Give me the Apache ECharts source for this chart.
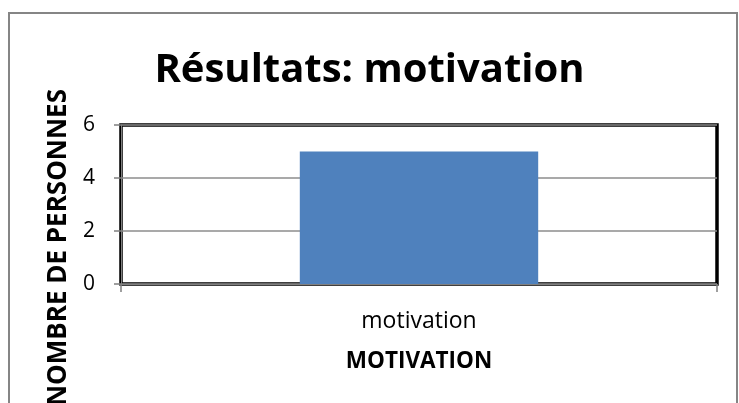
<!DOCTYPE html>
<html>
<head>
<meta charset="utf-8">
<script src="https://cdn.jsdelivr.net/npm/echarts@6/dist/echarts.min.js"></script>
<style>
  html, body { margin: 0; padding: 0; background: #fff; }
  #chart { width: 739px; height: 403px; }
</style>
</head>
<body>
<div id="chart"></div>
<script>
// Survey results: number of people citing motivation
const categories = ['motivation'];
const personCounts = [5];
const yTicks = [0, 2, 4, 6];

const chart = echarts.init(document.getElementById('chart'), null, { renderer: 'canvas' });
const FONT = '"Open Sans", "Noto Sans", sans-serif';

chart.setOption({
  backgroundColor: '#fff',
  animation: false,
  title: {
    text: 'Résultats: motivation',
    left: 'center',
    top: 46,
    textStyle: { fontFamily: FONT, fontWeight: 'bold', fontSize: 40, color: '#000' }
  },
  graphic: [
    {
      type: 'rect',
      shape: { x: 9, y: 13, width: 728, height: 420 },
      style: { fill: 'none', stroke: '#858585', lineWidth: 2 },
      silent: true
    },
    {
      type: 'text',
      x: 59,
      y: 89,
      rotation: Math.PI / 2,
      style: {
        text: 'NOMBRE DE PERSONNES',
        fontFamily: FONT,
        fontWeight: 'bold',
        fontSize: 26,
        fill: '#000',
        align: 'right',
        verticalAlign: 'middle'
      },
      silent: true
    }
  ],
  grid: {
    left: 121, right: 22, top: 125, bottom: 119,
    show: true, borderColor: '#000', borderWidth: 3.5, backgroundColor: 'transparent'
  },
  xAxis: {
    type: 'category',
    data: categories,
    name: 'MOTIVATION',
    nameLocation: 'middle',
    nameGap: 66,
    nameTextStyle: { fontFamily: FONT, fontWeight: 'bold', fontSize: 22.5, color: '#000' },
    axisLine: { show: true, lineStyle: { color: '#808080', width: 1 } },
    axisTick: { show: true, length: 8, lineStyle: { color: '#808080', width: 1.5 } },
    axisLabel: { margin: 26, fontFamily: FONT, fontSize: 23, color: '#000' }
  },
  yAxis: {
    type: 'value',
    min: yTicks[0],
    max: yTicks[yTicks.length - 1],
    interval: yTicks[1] - yTicks[0],
    axisLine: { show: true, lineStyle: { color: '#808080', width: 1 } },
    axisTick: { show: true, length: 7, lineStyle: { color: '#808080', width: 1.5 } },
    axisLabel: { margin: 26, fontFamily: FONT, fontSize: 21, color: '#000' },
    splitLine: { show: true, lineStyle: { color: '#8c8c8c', width: 1.5 } }
  },
  series: [{
    type: 'bar',
    data: personCounts,
    barWidth: '40%',
    itemStyle: { color: '#4F81BD' }
  }]
});
</script>
</body>
</html>
